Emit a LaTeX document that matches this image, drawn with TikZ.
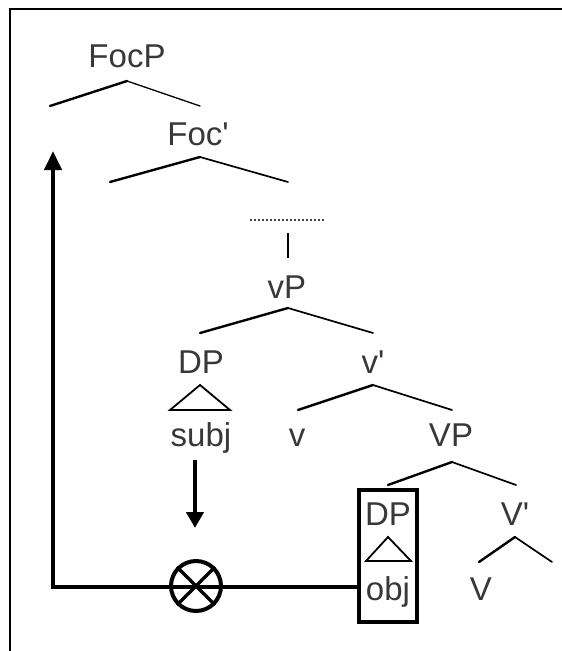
\documentclass[tikz,border=0pt]{standalone}
\usepackage{fontspec}
\setmainfont{Liberation Sans}
\usetikzlibrary{arrows.meta,positioning}

\begin{document}
\begin{tikzpicture}[
  x=1pt, y=-1pt,
  >=Triangle,
  % --- labels ---
  lbl/.style={font=\fontsize{33}{33}\selectfont, text=black!78,
    inner sep=0pt, anchor=base},
  % --- tree branches ---
  brL/.style={line width=2.4pt, line cap=round},
  brR/.style={line width=1.7pt, line cap=round},
  tri/.style={line width=1.8pt, line join=miter},
  % --- movement ---
  move/.style={line width=4.5pt, line join=miter,
    -{Triangle[length=19pt, width=17pt]}},
  objbox/.style={draw, line width=3.5pt, minimum width=58pt,
    minimum height=132pt, inner sep=0pt},
  mix/.style={draw, circle, line width=4pt, minimum size=50pt, inner sep=0pt},
  frame/.style={line width=2.2pt},
]
\useasboundingbox (0,0) rectangle (562,651);

% ===================== FRAME =====================
\draw[frame] (10,651) -- (10,9) -- (562,9);

% ===================== FOCP / FOC' =====================
\node[lbl] (focp) at (127,67) {FocP};
\coordinate (focp-top) at (127,81);
\coordinate (focp-l) at (50,106);
\coordinate (focp-r) at (200,106);
\draw[brL] (focp-top) -- (focp-l);
\draw[brR, line width=1.3pt] (focp-top) -- (focp-r);

\node[lbl] (foc) at (198,145) {Foc\textquotesingle};
\coordinate (foc-top) at (200,157);
\coordinate (foc-l) at (110,182);
\coordinate (foc-r) at (288,182);
\draw[brL] (foc-top) -- (foc-l);
\draw[brR] (foc-top) -- (foc-r);

% dots and bar
\coordinate (dots-l) at (250,220);
\coordinate (dots-r) at (325,220);
\draw[black!75, line width=1.3pt, dash pattern=on 1.5pt off 2.5pt] (dots-l) -- (dots-r);
\coordinate (bar-top) at (288,233);
\coordinate (bar-bot) at (288,258);
\draw[line width=1.8pt] (bar-top) -- (bar-bot);

% ===================== vP =====================
\node[lbl] (vp) at (287,298) {vP};
\coordinate (vp-top) at (288,308);
\coordinate (vp-l) at (200,333);
\coordinate (vp-r) at (373,333);
\draw[brL] (vp-top) -- (vp-l);
\draw[brR] (vp-top) -- (vp-r);

\node[lbl] (dpsubj) at (201,373) {DP};
\coordinate (tsubj-top) at (200,385);
\coordinate (tsubj-l) at (170,410);
\coordinate (tsubj-r) at (230,410);
\draw[tri] (tsubj-top) -- (tsubj-l) -- (tsubj-r) -- cycle;
\node[lbl] (subj) at (201,446) {subj};

\node[lbl] (vbar) at (373,373) {v\textquotesingle};
\coordinate (vbar-top) at (373,385);
\coordinate (vbar-l) at (298,410);
\coordinate (vbar-r) at (452,410);
\draw[brL] (vbar-top) -- (vbar-l);
\draw[brR] (vbar-top) -- (vbar-r);
\node[lbl] (v) at (297,446) {v};

% ===================== VP =====================
\node[lbl] (VP) at (451,446) {VP};
\coordinate (VP-top) at (452,462);
\coordinate (VP-l) at (388,485);
\coordinate (VP-r) at (516,485);
\draw[brL] (VP-top) -- (VP-l);
\draw[brR] (VP-top) -- (VP-r);

\node[lbl] (dpobj) at (388,525) {DP};
\coordinate (tobj-top) at (388,537);
\coordinate (tobj-l) at (366,561);
\coordinate (tobj-r) at (411,561);
\draw[tri] (tobj-top) -- (tobj-l) -- (tobj-r) -- cycle;
\node[lbl] (obj) at (388,600) {obj};
\node[objbox] (box) at (388,556) {};

\node[lbl] (Vbar) at (515,525) {V\textquotesingle};
\coordinate (Vbar-top) at (515,537);
\coordinate (Vbar-l) at (479,562);
\coordinate (Vbar-r) at (552,562);
\draw[brL] (Vbar-top) -- (Vbar-l);
\draw[brR] (Vbar-top) -- (Vbar-r);
\node[lbl] (V) at (481,600) {V};

% ===================== MOVEMENT =====================
\node[mix] (otimes) at (196,586) {};
\draw[line width=3.2pt] (otimes.north west) -- (otimes.south east);
\draw[line width=3.2pt] (otimes.north east) -- (otimes.south west);

\coordinate (corner) at (53,587);
\coordinate (land) at (53,151);
\draw[move] (box.west |- corner) -- (corner) -- (land);

\coordinate (subj-out) at (195,460);
\coordinate (subj-in) at (195,528);
\draw[move, line width=4pt, -{Triangle[length=16pt, width=17pt]}] (subj-out) -- (subj-in);

\end{tikzpicture}
\end{document}
